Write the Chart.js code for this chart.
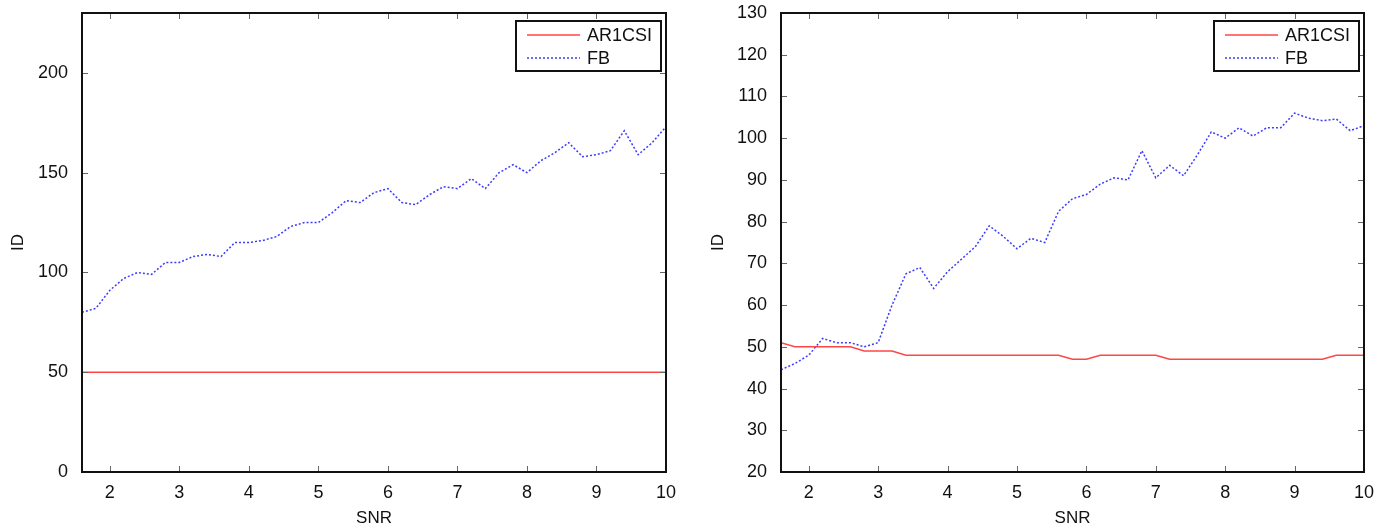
<!DOCTYPE html>
<html>
<head>
<meta charset="utf-8">
<script src="https://cdn.jsdelivr.net/npm/chart.js@4"></script>
<style>
  html, body { margin: 0; padding: 0; background: #fff; }
  #wrap { position: relative; width: 1388px; height: 530px; }
  #left { position: absolute; left: 0; top: 0; }
  #right { position: absolute; left: 700px; top: 0; }
</style>
</head>
<body>
<div id="wrap">
  <canvas id="left" width="700" height="530"></canvas>
  <canvas id="right" width="688" height="530"></canvas>
</div>
<script>
// SNR values along the x axis
var snr = [1.6, 1.8, 2.0, 2.2, 2.4, 2.6, 2.8, 3.0, 3.2, 3.4, 3.6, 3.8, 4.0, 4.2, 4.4,
           4.6, 4.8, 5.0, 5.2, 5.4, 5.6, 5.8, 6.0, 6.2, 6.4, 6.6, 6.8, 7.0, 7.2, 7.4,
           7.6, 7.8, 8.0, 8.2, 8.4, 8.6, 8.8, 9.0, 9.2, 9.4, 9.6, 9.8, 10.0];
var xTicks = [2, 3, 4, 5, 6, 7, 8, 9, 10];

// left panel
var leftAR1CSI = [50, 50, 50, 50, 50, 50, 50, 50, 50, 50, 50, 50, 50, 50, 50,
                  50, 50, 50, 50, 50, 50, 50, 50, 50, 50, 50, 50, 50, 50, 50,
                  50, 50, 50, 50, 50, 50, 50, 50, 50, 50, 50, 50, 50];
var leftFB = [80, 82, 91, 97, 100, 99, 105, 105, 108, 109, 108, 115, 115, 116, 118,
              123, 125, 125, 130, 136, 135, 140, 142, 135, 134, 139, 143, 142, 147, 142,
              150, 154, 150, 156, 160, 165, 158, 159, 161, 171, 159, 165, 173];
var leftYTicks = [0, 50, 100, 150, 200];

// right panel
var rightAR1CSI = [51, 50, 50, 50, 50, 50, 49, 49, 49, 48, 48, 48, 48, 48, 48,
                   48, 48, 48, 48, 48, 48, 47, 47, 48, 48, 48, 48, 48, 47, 47,
                   47, 47, 47, 47, 47, 47, 47, 47, 47, 47, 48, 48, 48];
var rightFB = [44.5, 46, 48, 52, 51, 51, 50, 51, 60, 67.5, 69, 64, 68, 71, 74,
               79, 76.5, 73.5, 76, 75, 82.5, 85.5, 86.5, 89, 90.5, 90, 97, 90.5, 93.5, 91,
               96, 101.5, 100, 102.5, 100.5, 102.5, 102.5, 106, 104.8, 104.2, 104.6, 101.8, 103];
var rightYTicks = [20, 30, 40, 50, 60, 70, 80, 90, 100, 110, 120, 130];

var RED = 'rgb(255, 70, 70)';
var BLUE = 'rgb(60, 60, 255)';
var FONT = "'Liberation Sans', Arial, sans-serif";

// box around the plot plus inward tick marks on all four sides
var framePlugin = {
    id: 'frame',
    afterDraw: function (chart) {
        var ctx = chart.ctx, a = chart.chartArea;
        var xs = chart.scales.x, ys = chart.scales.y;
        ctx.save();
        ctx.strokeStyle = '#666';
        ctx.lineWidth = 1;
        ctx.beginPath();
        xs.ticks.forEach(function (t) {
            var px = Math.round(xs.getPixelForValue(t.value)) + 0.5;
            ctx.moveTo(px, a.bottom); ctx.lineTo(px, a.bottom - 6);
            ctx.moveTo(px, a.top); ctx.lineTo(px, a.top + 6);
        });
        ys.ticks.forEach(function (t) {
            var py = Math.round(ys.getPixelForValue(t.value)) + 0.5;
            ctx.moveTo(a.left, py); ctx.lineTo(a.left + 6, py);
            ctx.moveTo(a.right, py); ctx.lineTo(a.right - 6, py);
        });
        ctx.stroke();
        ctx.strokeStyle = '#111';
        ctx.lineWidth = 2;
        ctx.strokeRect(a.left, a.top, a.right - a.left, a.bottom - a.top);

        // legend box in the top right corner
        var w = 145, h = 50;
        var bx = a.right - w - 5, by = a.top + 8;
        ctx.fillStyle = '#fff';
        ctx.fillRect(bx, by, w, h);
        ctx.strokeRect(bx, by, w, h);
        ctx.font = '18px ' + FONT;
        ctx.textBaseline = 'middle';
        chart.data.datasets.forEach(function (ds, i) {
            var ly = by + 14 + i * 23;
            ctx.strokeStyle = ds.borderColor;
            ctx.lineWidth = 1.5;
            ctx.setLineDash(ds.borderDash || []);
            ctx.beginPath();
            ctx.moveTo(bx + 11, ly); ctx.lineTo(bx + 64, ly);
            ctx.stroke();
            ctx.setLineDash([]);
            ctx.fillStyle = '#111';
            ctx.fillText(ds.label, bx + 71, ly + 1);
        });
        ctx.restore();
    }
};

function buildChart(canvasId, rightPad, yAxisWidth, yMin, yMax, yTicks, arValues, fbValues) {
    var ctx = document.getElementById(canvasId).getContext('2d');
    return new Chart(ctx, {
        type: 'line',
        data: {
            datasets: [{
                label: 'AR1CSI',
                data: snr.map(function (x, i) { return { x: x, y: arValues[i] }; }),
                borderColor: RED,
                borderWidth: 1.5,
                pointRadius: 0,
                fill: false
            }, {
                label: 'FB',
                data: snr.map(function (x, i) { return { x: x, y: fbValues[i] }; }),
                borderColor: BLUE,
                borderWidth: 1.5,
                borderDash: [2, 2],
                pointRadius: 0,
                fill: false
            }]
        },
        options: {
            responsive: false,
            animation: false,
            layout: { padding: { top: 13, right: rightPad, left: 0, bottom: 0 } },
            plugins: {
                legend: { display: false },
                tooltip: { enabled: false }
            },
            scales: {
                x: {
                    type: 'linear',
                    min: 1.6,
                    max: 10,
                    afterBuildTicks: function (s) { s.ticks = xTicks.map(function (v) { return { value: v }; }); },
                    afterFit: function (s) { s.height = 58; },
                    grid: { display: false },
                    border: { display: false },
                    ticks: { color: '#111', padding: 2, maxRotation: 0, font: { size: 18, family: FONT } },
                    title: { display: true, text: 'SNR', color: '#111', padding: { top: 0, bottom: 1 }, font: { size: 17, family: FONT } }
                },
                y: {
                    min: yMin,
                    max: yMax,
                    afterBuildTicks: function (s) { s.ticks = yTicks.map(function (v) { return { value: v }; }); },
                    afterFit: function (s) { s.width = yAxisWidth; s.paddingTop = 0; s.paddingBottom = 0; },
                    grid: { display: false },
                    border: { display: false },
                    ticks: { color: '#111', padding: 6, font: { size: 18, family: FONT } },
                    title: { display: true, text: 'ID', color: '#111', padding: { top: 8, bottom: 0 }, font: { size: 17, family: FONT } }
                }
            }
        },
        plugins: [framePlugin]
    });
}

buildChart('left', 34, 82, 0, 230, leftYTicks, leftAR1CSI, leftFB);
buildChart('right', 24, 81, 20, 130, rightYTicks, rightAR1CSI, rightFB);
</script>
</body>
</html>
